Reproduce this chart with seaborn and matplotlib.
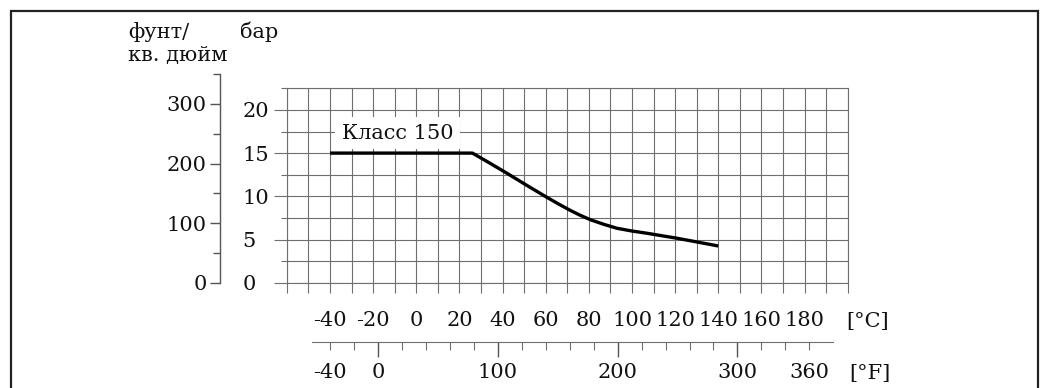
import numpy as np
import pandas as pd
import matplotlib
matplotlib.use("Agg")
import matplotlib.pyplot as plt
import seaborn as sns
from matplotlib.patches import Rectangle
from matplotlib.ticker import MultipleLocator, FixedLocator, FuncFormatter

# ---- data ----
temp_c = [-40, 26, 34, 42, 51, 60, 66, 71, 76, 81, 87, 93, 100, 107, 114, 121, 130, 140]
pressure_bar = [15.0, 15.0, 13.85, 12.67, 11.3, 9.96, 9.1, 8.42, 7.8, 7.26, 6.75, 6.3, 5.98, 5.72, 5.43, 5.14, 4.72, 4.25]
series_label = "Класс 150"
c_tick_labels = [-40, -20, 0, 20, 40, 60, 80, 100, 120, 140, 160, 180]
f_major_ticks = [0, 100, 200, 300]
f_extra_labels = [-40, 360]
bar_tick_labels = [0, 5, 10, 15, 20]
psi_tick_labels = [0, 100, 200, 300]
psi_label = ["фунт/", "кв. дюйм"]
bar_label = "бар"
c_unit = "[°C]"
f_unit = "[°F]"

sns.set_style("white")
plt.rcParams['font.family'] = ['DejaVu Serif', 'DejaVu Sans']
plt.rcParams['text.color'] = '#111111'
plt.rcParams['xtick.labelcolor'] = '#111111'
plt.rcParams['ytick.labelcolor'] = '#111111'
FS = 15
GRID = '#6e6e6e'
GLW = 0.8
PT = 72 / 100.0  # px -> pt

W, H = 1046, 388
fig = plt.figure(figsize=(W / 100, H / 100), dpi=100)


def box(x0, y0, x1, y1):
    """pixel box (top-left origin) -> figure fraction rect"""
    return [x0 / W, 1 - y1 / H, (x1 - x0) / W, (y1 - y0) / H]


# main axes: -60..200 C, 0..22.5 bar
X0, X1 = 286.9, 847.7
YB, YT = 282.7, 88.3
bar_px = (YB - YT) / 22.5
ax = fig.add_axes(box(X0, YT, X1, YB))
ax.set_xlim(-60, 200)
ax.set_ylim(0, 22.5)
ax.set_axisbelow(True)

df = pd.DataFrame({"T": temp_c, "P": pressure_bar})
sns.lineplot(data=df, x="T", y="P", ax=ax, color='black', linewidth=2.4,
             solid_capstyle='butt', solid_joinstyle='round')
ax.set_xlabel("")
ax.set_ylabel("")

ax.xaxis.set_major_locator(MultipleLocator(10))
ax.xaxis.set_major_formatter(FuncFormatter(
    lambda v, p: f"{int(round(v))}" if int(round(v)) in c_tick_labels else ""))
ax.yaxis.set_major_locator(FixedLocator(bar_tick_labels))
ax.yaxis.set_minor_locator(FixedLocator([2.5, 7.5, 12.5, 17.5, 22.5]))
ax.yaxis.set_major_formatter(FuncFormatter(lambda v, p: f"{int(v)}"))
ax.grid(which='both', color=GRID, linewidth=GLW)
for s in ax.spines.values():
    s.set_color(GRID)
    s.set_linewidth(GLW)

ax.tick_params(axis='x', which='major', bottom=True, direction='out',
               length=10 * PT, width=GLW, color=GRID, labelsize=FS,
               pad=18 * PT)
ax.tick_params(axis='y', which='major', left=True, direction='out',
               length=12.7 * PT, width=GLW, color=GRID, labelsize=FS,
               pad=31.5 * PT)
ax.tick_params(axis='y', which='minor', left=True, direction='out',
               length=6 * PT, width=GLW, color=GRID)
for t in ax.get_yticklabels():
    t.set_horizontalalignment('left')

ax.text(-34.6, 17.3, series_label, fontsize=FS, va='center', ha='left',
        bbox=dict(facecolor='white', edgecolor='none',
                  boxstyle='square,pad=0.3'), zorder=3)

# psi axis (0..350 psi)
psi_top = YB - 350 / 14.5038 * bar_px
axp = fig.add_axes(box(220, psi_top, 221, YB))
axp.set_ylim(0, 350)
axp.patch.set_alpha(0)
for k in ['top', 'right', 'bottom']:
    axp.spines[k].set_visible(False)
axp.spines['left'].set_color('#555555')
axp.spines['left'].set_linewidth(1.0)
axp.set_xticks([])
axp.yaxis.set_major_locator(FixedLocator(psi_tick_labels))
axp.yaxis.set_minor_locator(FixedLocator([50, 150, 250, 350]))
axp.yaxis.set_major_formatter(FuncFormatter(lambda v, p: f"{int(v)}"))
axp.tick_params(axis='y', which='major', left=True, direction='out',
                length=10 * PT, width=1.0, color='#555555', labelsize=FS,
                pad=3 * PT)
axp.tick_params(axis='y', which='minor', left=True, direction='out',
                length=6.7 * PT, width=1.0, color='#555555')

# Fahrenheit axis
YF = 341.7
axf = fig.add_axes(box(X0, YF - 1, X1, YF))
axf.set_xlim(-60 * 9 / 5 + 32, 200 * 9 / 5 + 32)
axf.patch.set_alpha(0)
for k in ['top', 'right', 'left']:
    axf.spines[k].set_visible(False)
axf.spines['bottom'].set_bounds(-55, 380)
axf.spines['bottom'].set_color(GRID)
axf.spines['bottom'].set_linewidth(GLW)
axf.set_yticks([])
axf.xaxis.set_major_locator(FixedLocator(f_major_ticks))
axf.xaxis.set_minor_locator(FixedLocator(list(range(-40, 361, 20))))
axf.xaxis.set_major_formatter(FuncFormatter(lambda v, p: f"{int(v)}"))
axf.xaxis.set_minor_formatter(FuncFormatter(
    lambda v, p: f"{int(v)}" if int(v) in f_extra_labels else ""))
axf.tick_params(axis='x', which='major', bottom=True, direction='out',
                length=15 * PT, width=1.0, color='#555555', labelsize=FS,
                pad=6 * PT)
axf.tick_params(axis='x', which='minor', bottom=True, direction='out',
                length=8.3 * PT, width=GLW, color=GRID, labelsize=FS,
                pad=(6 + 6.7) * PT)

# units and titles
fig.text(868 / W, 1 - 321 / H, c_unit, fontsize=FS, ha='center', va='center')
fig.text(870 / W, 1 - 374 / H, f_unit, fontsize=FS, ha='center', va='center')
fig.text(128 / W, 1 - 32 / H, psi_label[0], fontsize=FS, ha='left', va='center')
fig.text(128 / W, 1 - 55 / H, psi_label[1], fontsize=FS, ha='left', va='center')
fig.text(240 / W, 1 - 32 / H, bar_label, fontsize=FS, ha='left', va='center')

# outer frame
fig.add_artist(Rectangle((10.7 / W, -0.1), (1038.3 - 10.7) / W,
                         1 - 10.7 / H + 0.1, fill=False, lw=1.6,
                         ec='#222222', transform=fig.transFigure,
                         clip_on=False))

fig.savefig("out.png", dpi=100)
